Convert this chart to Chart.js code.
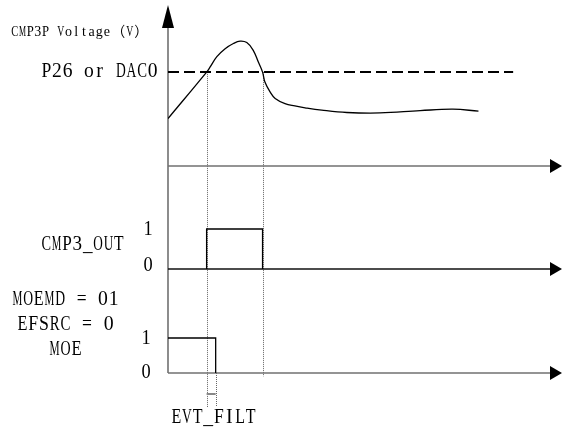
<!DOCTYPE html>
<html>
<head>
<meta charset="utf-8">
<script src="https://cdn.jsdelivr.net/npm/chart.js@4.4.1/dist/chart.umd.min.js"></script>
<style>
  html, body { margin: 0; padding: 0; background: #fff; }
  canvas { display: block; }
</style>
</head>
<body>
<canvas id="chart" width="562" height="430"></canvas>
<script>
// time runs 0..100 (arbitrary units), left edge of the diagram is 0
const timeMax = 100
const axisEnd = 97

// CMP3P voltage curve (V)
const voltTime = [0, 9.8, 10.7, 12.4, 14.5, 16.6, 18.3, 20.0, 21.6, 22.9, 24.0, 24.6, 25.9, 27.2, 29.7, 32.2, 34.8, 39.0, 45.4, 53.8, 64.0, 72.3, 78.8]
const voltage = [1.01, 2.0, 2.11, 2.33, 2.50, 2.61, 2.66, 2.63, 2.47, 2.22, 2.0, 1.79, 1.58, 1.44, 1.33, 1.28, 1.24, 1.19, 1.14, 1.13, 1.18, 1.21, 1.17]

// threshold (P26 or DAC0)
const thresholdTime = [0, 87.6]
const threshold = [2.0, 2.0]

// CMP3_OUT
const cmpTime = [9.8, 9.8, 24.0, 24.0]
const cmpOut = [0, 1, 1, 0]

// MOE
const moeTime = [0, 12.1, 12.1]
const moe = [1, 1, 0]

// EVT_FILT width marker (drawn below the MOE baseline)
const evtTime = [9.8, 12.1]
const evt = [-0.6, -0.6]

// dotted guide lines: time, start (axis + value), end on MOE axis
const guideTime = [9.8, 24.0, 12.1]
const guideStartAxis = ['yV', 'yV', 'yM']
const guideStart = [2.0, 2.0, 0]
const guideEnd = [-0.97, -0.09, -0.97]

const levelTicks = ['0', '1']

const pts = (xs, ys) => xs.map((x, i) => ({ x: x, y: ys[i] }))

// fixed-cell text, like the SimSun look of the original (full width chars take 2 cells)
function label(ctx, text, left, right, cy, size) {
  ctx.font = size + 'px "Liberation Serif", "Noto Sans CJK SC", serif'
  ctx.textBaseline = 'middle'
  ctx.textAlign = 'center'
  const chars = [...text]
  const cells = chars.map(c => c.charCodeAt(0) > 0x2e80 ? 2 : 1)
  const cell = (right - left) / cells.reduce((a, b) => a + b, 0)
  let x = left
  chars.forEach((c, i) => {
    const cw = cell * cells[i]
    const w = ctx.measureText(c).width
    const sx = w > 0 ? Math.min(1, cw * 0.92 / w) : 1
    ctx.save()
    ctx.translate(x + cw / 2, cy)
    ctx.scale(sx, 1)
    ctx.fillText(c, 0, 0)
    ctx.restore()
    x += cw
  })
}

const diagram = {
  id: 'diagram',
  beforeDatasetsDraw(chart) {
    const ctx = chart.ctx
    const x = chart.scales.x
    const s = chart.scales
    const x0 = x.getPixelForValue(0)
    const xEnd = x.getPixelForValue(axisEnd)
    const xTip = x.getPixelForValue(timeMax)
    const top = chart.chartArea.top
    ctx.save()

    // guides
    ctx.strokeStyle = '#666'
    ctx.lineWidth = 1
    ctx.setLineDash([1, 1])
    guideTime.forEach((t, i) => {
      const px = Math.round(x.getPixelForValue(t)) + 0.5
      ctx.beginPath()
      ctx.moveTo(px, s[guideStartAxis[i]].getPixelForValue(guideStart[i]))
      ctx.lineTo(px, s.yM.getPixelForValue(guideEnd[i]))
      ctx.stroke()
    })
    ctx.setLineDash([])

    // vertical axis with arrow
    ctx.strokeStyle = '#707070'
    ctx.lineWidth = 1.6
    ctx.beginPath()
    ctx.moveTo(x0, top + 20)
    ctx.lineTo(x0, s.yM.getPixelForValue(0))
    ctx.stroke()
    ctx.fillStyle = '#000'
    ctx.beginPath()
    ctx.moveTo(x0, top)
    ctx.lineTo(x0 - 6, top + 23)
    ctx.lineTo(x0 + 6, top + 23)
    ctx.closePath()
    ctx.fill()

    // horizontal axes with arrows
    ;[['yV', '#707070', 1.6], ['yC', '#111', 1.3], ['yM', '#707070', 1.6]].forEach(([id, col, lw]) => {
      const py = s[id].getPixelForValue(0)
      ctx.strokeStyle = col
      ctx.lineWidth = lw
      ctx.beginPath()
      ctx.moveTo(x0, py)
      ctx.lineTo(xEnd, py)
      ctx.stroke()
      ctx.beginPath()
      ctx.moveTo(xTip, py)
      ctx.lineTo(xTip - 12, py - 7)
      ctx.lineTo(xTip - 12, py + 7)
      ctx.closePath()
      ctx.fill()
    })
    ctx.restore()
  },
  afterDraw(chart) {
    const ctx = chart.ctx
    const s = chart.scales
    ctx.save()
    ctx.fillStyle = '#000'
    label(ctx, 'CMP3P Voltage\uFF08V\uFF09', 11, 149, 32, 14)
    label(ctx, 'P26 or DAC0', 41, 158, s.yV.getPixelForValue(threshold[0]), 20)
    label(ctx, 'CMP3_OUT', 41, 124, 245, 20)
    label(ctx, levelTicks[1], 143, 153, s.yC.getPixelForValue(1) + 1, 20)
    label(ctx, levelTicks[0], 143, 153, s.yC.getPixelForValue(0) - 3, 20)
    label(ctx, 'MOEMD = 01', 12, 119, 300, 20)
    label(ctx, 'EFSRC = 0', 17, 114, 325, 20)
    label(ctx, 'MOE', 49, 82, 350, 20)
    label(ctx, levelTicks[1], 141, 151, s.yM.getPixelForValue(1) + 1, 20)
    label(ctx, levelTicks[0], 141, 151, s.yM.getPixelForValue(0), 20)
    label(ctx, 'EVT_FILT', 171, 256, 418, 20)
    ctx.restore()
  }
}

const line = (data, yAxisID, extra) => Object.assign({
  data: data,
  yAxisID: yAxisID,
  borderColor: '#000',
  borderWidth: 1.3,
  pointRadius: 0,
  tension: 0,
  fill: false
}, extra || {})

new Chart(document.getElementById('chart'), {
  type: 'line',
  data: {
    datasets: [
      line(pts(voltTime, voltage), 'yV', { tension: 0.4 }),
      line(pts(thresholdTime, threshold), 'yV', { borderWidth: 2, borderDash: [11, 5] }),
      line(pts(cmpTime, cmpOut), 'yC'),
      line(pts(moeTime, moe), 'yM'),
      line(pts(evtTime, evt), 'yM', { borderColor: '#888', borderWidth: 2, clip: false })
    ]
  },
  options: {
    responsive: false,
    animation: false,
    devicePixelRatio: 1,
    layout: { padding: { left: 168, right: 0, top: 5, bottom: 57 } },
    plugins: { legend: { display: false }, tooltip: { enabled: false } },
    scales: {
      x: { type: 'linear', min: 0, max: timeMax, display: false },
      yV: { type: 'linear', min: 0, max: 3.43, display: false, stack: 'sig', stackWeight: 161, weight: 3 },
      yC: { type: 'linear', min: 0, max: 2.575, display: false, stack: 'sig', stackWeight: 103, weight: 2 },
      yM: { type: 'linear', min: 0, max: 2.97, display: false, stack: 'sig', stackWeight: 104, weight: 1 }
    }
  },
  plugins: [diagram]
})
</script>
</body>
</html>
